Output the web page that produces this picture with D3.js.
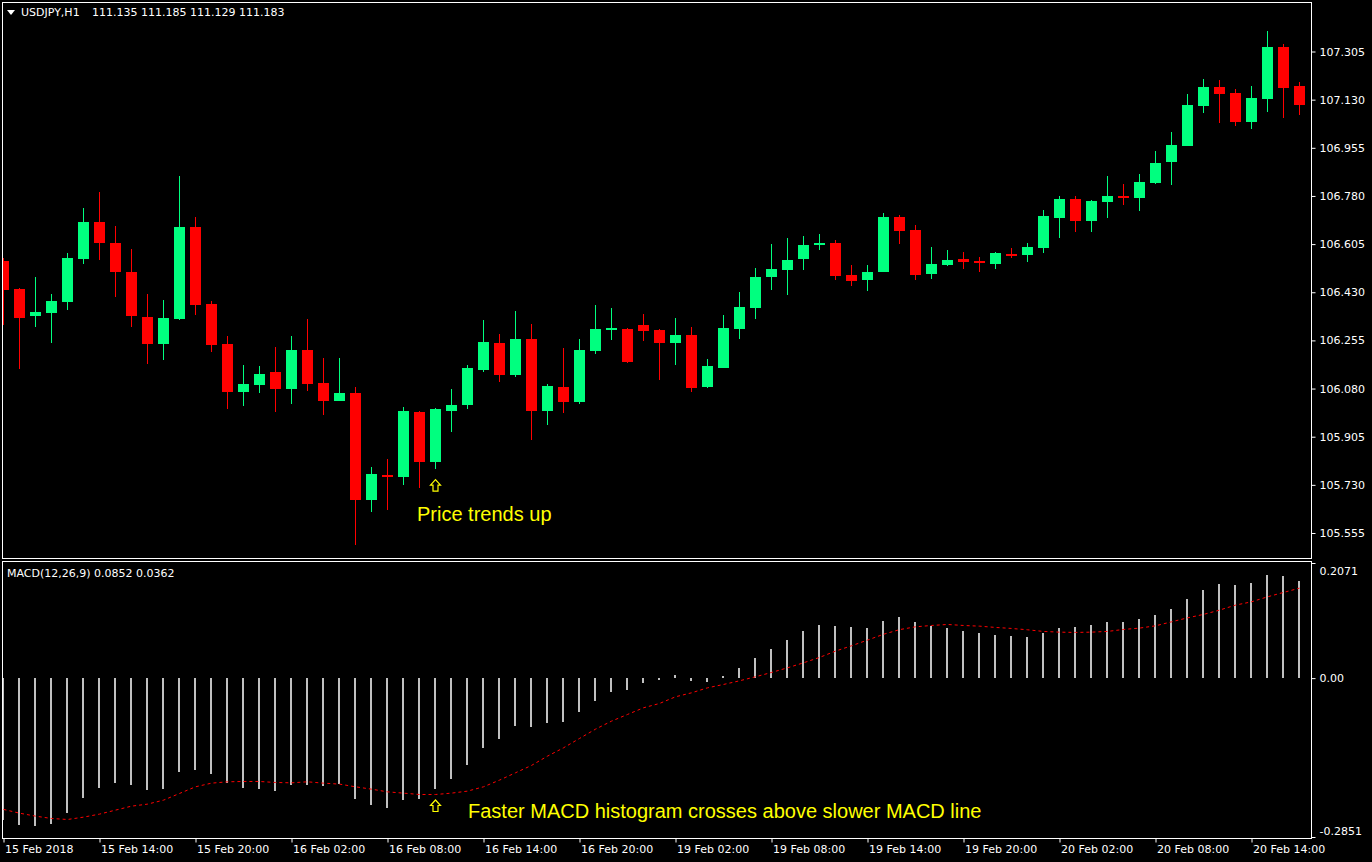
<!DOCTYPE html>
<html>
<head>
<meta charset="utf-8">
<script src="https://cdn.jsdelivr.net/npm/d3@7"></script>
<style>
html, body { margin: 0; padding: 0; background: #000; overflow: hidden; }
svg text { font-family: "DejaVu Sans", Verdana, sans-serif; }
</style>
</head>
<body>
<svg id="chart" width="1372" height="862"></svg>
<script>
// USDJPY H1, 82 bars starting 15 Feb 2018 08:00
var opens = [106.542,106.442,106.342,106.355,106.396,106.551,106.686,106.610,106.504,106.340,
    106.243,106.333,106.668,106.388,106.242,106.069,106.093,106.140,106.079,106.220,
    106.100,106.036,106.064,105.676,105.766,105.760,105.995,105.814,106.000,106.020,
    106.148,106.246,106.130,106.260,105.999,106.086,106.031,106.217,106.293,106.297,
    106.311,106.293,106.246,106.275,106.086,106.155,106.297,106.373,106.486,106.511,
    106.551,106.602,106.610,106.493,106.475,106.505,106.704,106.657,106.497,106.530,
    106.551,106.544,106.533,106.570,106.566,106.591,106.700,106.770,106.690,106.759,
    106.780,106.773,106.828,106.904,106.962,107.108,107.177,107.155,107.050,107.133,
    107.322,107.180]
var highs = [106.555,106.444,106.487,106.424,106.573,106.737,106.795,106.671,106.588,106.424,
    106.402,106.853,106.704,106.399,106.271,106.166,106.162,106.231,106.271,106.333,
    106.191,106.191,106.086,105.795,105.824,106.013,105.999,106.008,106.079,106.166,
    106.330,106.279,106.362,106.315,106.097,106.228,106.260,106.384,106.373,106.300,
    106.351,106.297,106.337,106.304,106.188,106.348,106.431,106.519,106.606,106.628,
    106.635,106.642,106.620,106.530,106.530,106.719,106.711,106.675,106.595,106.584,
    106.577,106.559,106.577,106.591,106.610,106.730,106.780,106.780,106.766,106.853,
    106.824,106.860,106.944,107.013,107.151,107.206,107.202,107.170,107.180,107.380,
    107.333,107.195]
var lows = [106.311,106.151,106.305,106.247,106.366,106.534,106.549,106.414,106.305,106.171,
    106.185,106.330,106.348,106.213,106.007,106.018,106.065,105.996,106.025,106.072,
    105.985,106.034,105.512,105.632,105.640,105.731,105.720,105.789,105.923,106.006,
    106.140,106.104,106.122,105.893,105.948,105.991,106.024,106.206,106.257,106.173,
    106.253,106.111,106.166,106.068,106.082,106.155,106.260,106.333,106.439,106.420,
    106.511,106.584,106.475,106.453,106.435,106.502,106.606,106.475,106.479,106.526,
    106.515,106.504,106.515,106.555,106.540,106.573,106.628,106.650,106.650,106.700,
    106.748,106.726,106.824,106.820,106.962,107.082,107.046,107.035,107.024,107.086,
    107.064,107.075]
var closes = [106.439,106.338,106.359,106.399,106.555,106.686,106.610,106.505,106.342,106.243,
    106.337,106.668,106.384,106.239,106.069,106.097,106.133,106.079,106.220,106.098,
    106.036,106.064,105.676,105.770,105.760,105.999,105.814,106.006,106.020,106.155,
    106.250,106.130,106.260,105.999,106.090,106.031,106.220,106.297,106.300,106.177,
    106.290,106.246,106.275,106.082,106.162,106.300,106.377,106.486,106.515,106.548,
    106.602,106.608,106.490,106.471,106.504,106.704,106.654,106.493,106.533,106.548,
    106.540,106.537,106.573,106.562,106.595,106.708,106.770,106.690,106.762,106.780,
    106.773,106.831,106.900,106.966,107.111,107.177,107.151,107.050,107.137,107.322,
    107.173,107.111]

var macdHist = [-0.2533,-0.2622,-0.2640,-0.2604,-0.2408,-0.2140,-0.1962,-0.1873,-0.1908,-0.1998,
    -0.1980,-0.1676,-0.1641,-0.1712,-0.1873,-0.1962,-0.1980,-0.2015,-0.1908,-0.1908,
    -0.1926,-0.1890,-0.2158,-0.2265,-0.2319,-0.2176,-0.2158,-0.1980,-0.1801,-0.1552,
    -0.1248,-0.1088,-0.0856,-0.0874,-0.0803,-0.0785,-0.0606,-0.0410,-0.0250,-0.0214,
    -0.0089,-0.0036,0.0054,-0.0054,-0.0071,0.0036,0.0178,0.0357,0.0517,0.0678,
    0.0838,0.0945,0.0927,0.0910,0.0892,0.1017,0.1088,0.0999,0.0927,0.0892,
    0.0838,0.0803,0.0767,0.0749,0.0731,0.0803,0.0892,0.0910,0.0945,0.0999,
    0.0999,0.1052,0.1124,0.1231,0.1409,0.1569,0.1676,0.1659,0.1694,0.1837,
    0.1819,0.1730]
var macdSignal = [-0.2341,-0.2408,-0.2461,-0.2503,-0.2521,-0.2479,-0.2425,-0.2354,-0.2283,-0.2247,
    -0.2176,-0.2057,-0.1938,-0.1873,-0.1849,-0.1843,-0.1843,-0.1861,-0.1867,-0.1849,
    -0.1873,-0.1890,-0.1938,-0.1980,-0.2028,-0.2051,-0.2075,-0.2075,-0.2051,-0.2015,
    -0.1938,-0.1819,-0.1688,-0.1557,-0.1391,-0.1243,-0.1076,-0.0910,-0.0767,-0.0648,
    -0.0529,-0.0452,-0.0333,-0.0262,-0.0173,-0.0113,-0.0048,0.0024,0.0101,0.0184,
    0.0273,0.0369,0.0482,0.0577,0.0678,0.0782,0.0865,0.0915,0.0939,0.0957,
    0.0939,0.0927,0.0904,0.0886,0.0862,0.0833,0.0820,0.0815,0.0820,0.0833,
    0.0868,0.0892,0.0933,0.1004,0.1075,0.1136,0.1213,0.1302,0.1361,0.1450,
    0.1528,0.1605]

var priceTicks = [105.555,105.730,105.905,106.080,106.255,106.430,106.605,106.780,106.955,107.130,107.305]
var macdTicks = [0.2071, 0, -0.2851]
var macdTickLabels = ["0.2071", "0.00", "-0.2851"]
var timeTickIdx = [0,6,12,18,24,30,36,42,48,54,60,66,72,78]
var timeLabels = ["15 Feb 2018","15 Feb 14:00","15 Feb 20:00","16 Feb 02:00","16 Feb 08:00","16 Feb 14:00",
    "16 Feb 20:00","19 Feb 02:00","19 Feb 08:00","19 Feb 14:00","19 Feb 20:00","20 Feb 02:00",
    "20 Feb 08:00","20 Feb 14:00"]

var bull = "#00ff7f", bear = "#ff0000"

var svg = d3.select("#chart")
svg.append("rect").attr("width", 1372).attr("height", 862).attr("fill", "#000")

var left = 2.5, right = 1311.5
var mainTop = 2.5, mainBottom = 558.5
var subTop = 561.5, subBottom = 838.5

var x = d3.scaleLinear().domain([0, 81]).range([3.5, 3.5 + 16 * 81])
var y = d3.scaleLinear().domain([105.555, 107.305]).range([533, 51.5])
var ySub = d3.scaleLinear().domain([-0.2851, 0.2071]).range([838, 562])

var defs = svg.append("defs")
defs.append("clipPath").attr("id", "clipMain").append("rect")
    .attr("x", 3).attr("y", 3).attr("width", right - 3).attr("height", mainBottom - 3)
defs.append("clipPath").attr("id", "clipSub").append("rect")
    .attr("x", 3).attr("y", subTop + 0.5).attr("width", right - 3).attr("height", subBottom - subTop - 1)

// candles
var bars = d3.range(opens.length).map(function (i) {
    return { i: i, o: opens[i], h: highs[i], l: lows[i], c: closes[i] }
})
var gMain = svg.append("g").attr("clip-path", "url(#clipMain)")
gMain.selectAll(".wick").data(bars).enter().append("line")
    .attr("x1", d => x(d.i)).attr("x2", d => x(d.i))
    .attr("y1", d => Math.round(y(d.h))).attr("y2", d => Math.round(y(d.l)))
    .attr("stroke", d => d.c >= d.o ? bull : bear)
    .attr("stroke-width", 1)
gMain.selectAll(".body").data(bars).enter().append("rect")
    .attr("x", d => x(d.i) - 5.5)
    .attr("width", 11)
    .attr("y", d => Math.round(y(Math.max(d.o, d.c))))
    .attr("height", d => Math.max(2, Math.round(y(Math.min(d.o, d.c))) - Math.round(y(Math.max(d.o, d.c)))))
    .attr("fill", d => d.c >= d.o ? bull : bear)

// MACD histogram + signal
var gSub = svg.append("g").attr("clip-path", "url(#clipSub)")
gSub.selectAll(".hist").data(macdHist).enter().append("rect")
    .attr("x", (d, i) => x(i) - 1.5)
    .attr("width", 2)
    .attr("y", d => Math.round(ySub(Math.max(0, d))))
    .attr("height", d => Math.max(1, Math.abs(Math.round(ySub(d)) - Math.round(ySub(0)))))
    .attr("fill", "#c0c0c0")

var line = d3.line()
    .x((d, i) => x(i))
    .y(d => ySub(d))
gSub.append("path")
    .attr("d", line(macdSignal))
    .attr("fill", "none")
    .attr("stroke", "#ff0000")
    .attr("stroke-width", 1)
    .attr("stroke-dasharray", "3,3")

// frames
svg.append("rect").attr("x", left).attr("y", mainTop).attr("width", right - left).attr("height", mainBottom - mainTop)
    .attr("fill", "none").attr("stroke", "#fff")
svg.append("rect").attr("x", left).attr("y", subTop).attr("width", right - left).attr("height", subBottom - subTop)
    .attr("fill", "none").attr("stroke", "#fff")

// price axis
var yAxis = svg.append("g").attr("transform", "translate(" + right + ",0)")
    .call(d3.axisRight(y).tickValues(priceTicks).tickSize(4).tickPadding(4).tickFormat(d3.format(".3f")))
yAxis.select(".domain").remove()

// macd axis
var subAxis = svg.append("g").attr("transform", "translate(" + right + ",0)")
    .call(d3.axisRight(ySub).tickValues(macdTicks).tickSize(4).tickPadding(4)
        .tickFormat((d, i) => macdTickLabels[i]))
subAxis.select(".domain").remove()
subAxis.selectAll(".tick").each(function (d, i) {
    var t = d3.select(this)
    if (i == 0) { t.select("line").attr("transform", "translate(0,1)"); t.select("text").attr("dy", "1.1em") }
    if (i == 2) { t.select("line").attr("transform", "translate(0,-1)"); t.select("text").attr("dy", "-0.3em") }
})

// time axis
var xAxis = svg.append("g").attr("transform", "translate(0," + subBottom + ")")
    .call(d3.axisBottom(x).tickValues(timeTickIdx).tickSize(4).tickPadding(3)
        .tickFormat((d, i) => timeLabels[i]))
xAxis.select(".domain").remove()
xAxis.selectAll("text").attr("text-anchor", "start").attr("x", 1)

svg.selectAll(".tick line").attr("stroke", "#fff")
svg.selectAll(".tick text").attr("fill", "#fff").style("font-size", "11px")

// header texts
svg.append("path").attr("d", "M7,10 L15,10 L11,15 Z").attr("fill", "#fff")
svg.append("text").attr("x", 21).attr("y", 16).attr("fill", "#fff").style("font-size", "11px").text("USDJPY,H1")
svg.append("text").attr("x", 92).attr("y", 16).attr("fill", "#fff").style("font-size", "11px")
    .text("111.135 111.185 111.129 111.183")
svg.append("text").attr("x", 7).attr("y", 577).attr("fill", "#fff").style("font-size", "11px")
    .text("MACD(12,26,9) 0.0852 0.0362")

// annotations
function upArrow(cx, top) {
    var p = "M" + cx + "," + top + " l5,5.5 h-2.5 v6 h-5 v-6 h-2.5 Z"
    svg.append("path").attr("d", p).attr("fill", "none").attr("stroke", "#ffff00").attr("stroke-width", 1.2)
}
upArrow(x(27), y(lows[27]) + 11)
upArrow(x(27), ySub(macdSignal[27]) + 5.5)

svg.append("text").attr("x", 417).attr("y", 521).attr("fill", "#ffff00")
    .style("font-family", "'Liberation Sans', Arial, sans-serif").style("font-size", "20px")
    .text("Price trends up")
svg.append("text").attr("x", 468).attr("y", 818).attr("fill", "#ffff00")
    .style("font-family", "'Liberation Sans', Arial, sans-serif").style("font-size", "20px")
    .text("Faster MACD histogram crosses above slower MACD line")
</script>
</body>
</html>
